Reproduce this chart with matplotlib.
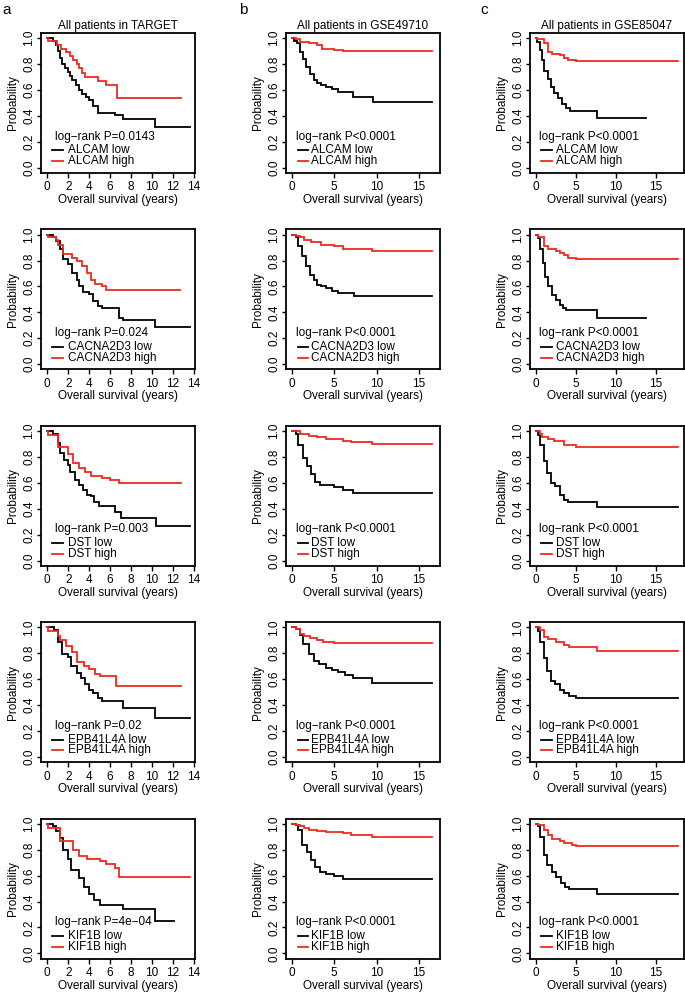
import matplotlib
matplotlib.use("Agg")
import matplotlib.pyplot as plt

plt.rcParams['font.family'] = ['Liberation Sans', 'DejaVu Sans']

# ---------------- data (time in years, survival probability) ----------------
COHORTS = ["TARGET", "GSE49710", "GSE85047"]
GENES = ["ALCAM", "CACNA2D3", "DST", "EPB41L4A", "KIF1B"]
PVALUES_TARGET = ["P=0.0143", "P=0.024", "P=0.003", "P=0.02", "P=4e\u221204"]
PVALUE_GEO = "P<0.0001"
PANEL_LETTERS = ["a", "b", "c"]
XTICKS_TARGET = [0, 2, 4, 6, 8, 10, 12, 14]
XTICKS_GEO = [0, 5, 10, 15]
YTICKS = [0.0, 0.2, 0.4, 0.6, 0.8, 1.0]

# --- TARGET ---
TARGET_ALCAM_LOW_T = [0, 0.5, 0.8, 1.0, 1.2, 1.4, 1.7, 2.0, 2.2, 2.4, 2.7, 3.0, 3.3, 3.7, 4.0, 4.4, 4.8, 6.5, 7.2, 10.3, 13.6]
TARGET_ALCAM_LOW_S = [1.0, 0.98, 0.95, 0.90, 0.85, 0.80, 0.77, 0.74, 0.71, 0.68, 0.64, 0.60, 0.57, 0.55, 0.52, 0.48, 0.42, 0.405, 0.38, 0.315, 0.315]
TARGET_ALCAM_HIGH_T = [0, 0.05, 0.9, 1.3, 1.8, 2.2, 2.5, 2.8, 3.0, 3.3, 3.6, 4.8, 5.6, 6.7, 12.8]
TARGET_ALCAM_HIGH_S = [1.0, 0.975, 0.95, 0.92, 0.89, 0.86, 0.83, 0.80, 0.77, 0.73, 0.70, 0.67, 0.64, 0.54, 0.54]

TARGET_CACNA2D3_LOW_T = [0, 0.5, 0.8, 1.2, 1.5, 2.0, 2.4, 2.8, 3.0, 3.4, 4.0, 4.4, 4.8, 5.2, 6.8, 7.2, 10.3, 13.6]
TARGET_CACNA2D3_LOW_S = [1.0, 0.98, 0.95, 0.89, 0.81, 0.77, 0.70, 0.65, 0.60, 0.56, 0.54, 0.49, 0.45, 0.435, 0.36, 0.34, 0.29, 0.29]
TARGET_CACNA2D3_HIGH_T = [0, 0.05, 0.8, 1.0, 1.5, 2.4, 2.8, 3.3, 3.8, 4.2, 4.6, 5.2, 5.6, 12.7]
TARGET_CACNA2D3_HIGH_S = [1.0, 0.98, 0.96, 0.92, 0.85, 0.82, 0.80, 0.76, 0.70, 0.65, 0.62, 0.60, 0.575, 0.575]

TARGET_DST_LOW_T = [0, 0.5, 1.0, 1.2, 1.6, 2.0, 2.2, 2.6, 3.0, 3.4, 3.8, 4.2, 4.5, 4.9, 6.5, 7.0, 10.4, 13.6]
TARGET_DST_LOW_S = [1.0, 0.98, 0.91, 0.83, 0.78, 0.74, 0.68, 0.625, 0.585, 0.545, 0.51, 0.495, 0.455, 0.42, 0.375, 0.33, 0.265, 0.265]
TARGET_DST_HIGH_T = [0, 0.05, 1.0, 2.0, 2.5, 3.0, 3.6, 4.2, 5.2, 6.0, 6.8, 12.8]
TARGET_DST_HIGH_S = [1.0, 0.97, 0.88, 0.82, 0.755, 0.715, 0.68, 0.65, 0.64, 0.625, 0.60, 0.60]

TARGET_EPB41L4A_LOW_T = [0, 0.6, 1.0, 1.4, 2.0, 2.3, 2.8, 3.2, 3.6, 4.0, 4.4, 4.8, 5.2, 6.5, 7.2, 10.3, 13.6]
TARGET_EPB41L4A_LOW_S = [1.0, 0.98, 0.89, 0.795, 0.77, 0.70, 0.65, 0.61, 0.56, 0.52, 0.495, 0.455, 0.435, 0.43, 0.38, 0.30, 0.30]
TARGET_EPB41L4A_HIGH_T = [0, 0.05, 1.0, 1.2, 1.8, 2.4, 2.8, 3.5, 4.0, 4.6, 5.0, 6.6, 12.8]
TARGET_EPB41L4A_HIGH_S = [1.0, 0.97, 0.93, 0.90, 0.86, 0.81, 0.73, 0.705, 0.68, 0.64, 0.625, 0.55, 0.55]

TARGET_KIF1B_LOW_T = [0, 0.5, 0.8, 1.2, 1.5, 2.0, 2.3, 3.0, 3.5, 4.0, 4.5, 5.0, 7.2, 10.3, 12.1]
TARGET_KIF1B_LOW_S = [1.0, 0.98, 0.947, 0.89, 0.80, 0.73, 0.645, 0.58, 0.51, 0.46, 0.41, 0.37, 0.345, 0.25, 0.25]
TARGET_KIF1B_HIGH_T = [0, 0.05, 1.2, 2.5, 3.0, 3.8, 5.0, 5.6, 6.5, 6.8, 13.6]
TARGET_KIF1B_HIGH_S = [1.0, 0.97, 0.87, 0.80, 0.75, 0.725, 0.71, 0.69, 0.66, 0.587, 0.587]

# --- GSE49710 ---
G497_ALCAM_LOW_T = [0, 0.3, 0.7, 1.0, 1.3, 1.7, 2.2, 2.6, 3.0, 3.5, 4.0, 4.8, 5.5, 7.2, 9.6, 16.5]
G497_ALCAM_LOW_S = [1.0, 0.98, 0.96, 0.89, 0.84, 0.775, 0.72, 0.68, 0.655, 0.64, 0.62, 0.605, 0.585, 0.55, 0.51, 0.51]
G497_ALCAM_HIGH_T = [0, 0.5, 1.0, 2.0, 3.0, 3.6, 5.0, 6.0, 16.5]
G497_ALCAM_HIGH_S = [1.0, 0.99, 0.97, 0.96, 0.945, 0.92, 0.91, 0.90, 0.90]

G497_CACNA2D3_LOW_T = [0, 0.5, 0.8, 1.2, 1.7, 2.2, 2.6, 3.0, 3.5, 4.0, 4.8, 5.5, 7.3, 16.5]
G497_CACNA2D3_LOW_S = [1.0, 0.98, 0.91, 0.835, 0.755, 0.69, 0.65, 0.61, 0.60, 0.585, 0.565, 0.55, 0.53, 0.53]
G497_CACNA2D3_HIGH_T = [0, 0.5, 1.0, 1.5, 2.3, 3.5, 5.0, 6.0, 9.5, 16.5]
G497_CACNA2D3_HIGH_S = [1.0, 0.99, 0.98, 0.96, 0.945, 0.92, 0.91, 0.89, 0.875, 0.875]

G497_DST_LOW_T = [0, 0.5, 0.8, 1.3, 1.8, 2.3, 2.8, 3.3, 4.0, 5.0, 6.0, 7.2, 16.5]
G497_DST_LOW_S = [1.0, 0.98, 0.89, 0.795, 0.73, 0.665, 0.61, 0.585, 0.58, 0.565, 0.545, 0.52, 0.52]
G497_DST_HIGH_T = [0, 1.0, 2.0, 3.0, 4.0, 6.0, 7.0, 9.5, 16.5]
G497_DST_HIGH_S = [1.0, 0.98, 0.965, 0.95, 0.935, 0.925, 0.915, 0.90, 0.90]

G497_EPB41L4A_LOW_T = [0, 0.5, 1.0, 1.4, 2.0, 2.6, 3.2, 4.0, 4.8, 5.5, 6.3, 7.2, 9.5, 16.5]
G497_EPB41L4A_LOW_S = [1.0, 0.99, 0.94, 0.875, 0.795, 0.74, 0.715, 0.69, 0.675, 0.655, 0.635, 0.61, 0.57, 0.57]
G497_EPB41L4A_HIGH_T = [0, 0.5, 1.0, 1.5, 2.2, 3.0, 3.7, 5.0, 16.5]
G497_EPB41L4A_HIGH_S = [1.0, 0.99, 0.95, 0.935, 0.92, 0.90, 0.885, 0.88, 0.88]

G497_KIF1B_LOW_T = [0, 0.5, 0.8, 1.2, 1.8, 2.3, 2.8, 3.3, 4.0, 5.0, 6.0, 16.5]
G497_KIF1B_LOW_S = [1.0, 0.99, 0.95, 0.84, 0.78, 0.72, 0.67, 0.63, 0.61, 0.60, 0.575, 0.575]
G497_KIF1B_HIGH_T = [0, 0.5, 1.0, 1.5, 2.0, 3.0, 4.0, 6.0, 7.0, 9.5, 16.5]
G497_KIF1B_HIGH_S = [1.0, 0.99, 0.98, 0.97, 0.955, 0.945, 0.94, 0.93, 0.91, 0.895, 0.895]

# --- GSE85047 ---
G850_ALCAM_LOW_T = [0, 0.2, 0.5, 0.8, 1.1, 1.5, 1.9, 2.3, 2.8, 3.3, 3.8, 4.3, 7.7, 13.8]
G850_ALCAM_LOW_S = [1.0, 0.97, 0.905, 0.83, 0.75, 0.685, 0.62, 0.58, 0.54, 0.49, 0.46, 0.44, 0.385, 0.385]
G850_ALCAM_HIGH_T = [0, 0.2, 1.0, 1.5, 2.0, 3.0, 3.5, 4.0, 5.0, 17.8]
G850_ALCAM_HIGH_S = [1.0, 0.99, 0.96, 0.895, 0.88, 0.87, 0.845, 0.835, 0.825, 0.825]

G850_CACNA2D3_LOW_T = [0, 0.3, 0.6, 0.9, 1.2, 1.6, 2.0, 2.5, 3.0, 3.4, 3.8, 7.7, 13.8]
G850_CACNA2D3_LOW_S = [1.0, 0.97, 0.89, 0.78, 0.675, 0.60, 0.535, 0.495, 0.455, 0.43, 0.415, 0.36, 0.36]
G850_CACNA2D3_HIGH_T = [0, 0.3, 1.0, 1.6, 2.5, 3.0, 3.5, 4.0, 5.0, 17.8]
G850_CACNA2D3_HIGH_S = [1.0, 0.98, 0.91, 0.89, 0.875, 0.86, 0.84, 0.82, 0.81, 0.81]

G850_DST_LOW_T = [0, 0.3, 0.6, 1.0, 1.4, 1.9, 2.4, 3.0, 3.5, 4.0, 7.7, 17.8]
G850_DST_LOW_S = [1.0, 0.97, 0.89, 0.77, 0.675, 0.60, 0.575, 0.51, 0.47, 0.45, 0.41, 0.41]
G850_DST_HIGH_T = [0, 0.5, 0.8, 1.5, 2.3, 3.5, 5.0, 17.8]
G850_DST_HIGH_S = [1.0, 0.98, 0.95, 0.935, 0.92, 0.895, 0.88, 0.88]

G850_EPB41L4A_LOW_T = [0, 0.3, 0.6, 1.0, 1.4, 1.9, 2.4, 3.0, 3.5, 4.2, 5.0, 17.8]
G850_EPB41L4A_LOW_S = [1.0, 0.97, 0.89, 0.76, 0.66, 0.59, 0.565, 0.52, 0.495, 0.47, 0.455, 0.455]
G850_EPB41L4A_HIGH_T = [0, 0.5, 1.0, 1.6, 2.5, 3.5, 4.2, 7.7, 17.8]
G850_EPB41L4A_HIGH_S = [1.0, 0.98, 0.925, 0.91, 0.89, 0.865, 0.845, 0.82, 0.82]

G850_KIF1B_LOW_T = [0, 0.3, 0.6, 1.0, 1.4, 2.0, 2.6, 3.2, 3.7, 4.2, 7.7, 17.8]
G850_KIF1B_LOW_S = [1.0, 0.98, 0.895, 0.76, 0.68, 0.625, 0.59, 0.545, 0.51, 0.495, 0.46, 0.46]
G850_KIF1B_HIGH_T = [0, 0.3, 1.0, 1.5, 2.0, 3.0, 3.6, 4.5, 5.0, 17.8]
G850_KIF1B_HIGH_S = [1.0, 0.99, 0.95, 0.91, 0.885, 0.87, 0.855, 0.84, 0.83, 0.83]

CURVES = {
    "TARGET": [
        (TARGET_ALCAM_LOW_T, TARGET_ALCAM_LOW_S, TARGET_ALCAM_HIGH_T, TARGET_ALCAM_HIGH_S),
        (TARGET_CACNA2D3_LOW_T, TARGET_CACNA2D3_LOW_S, TARGET_CACNA2D3_HIGH_T, TARGET_CACNA2D3_HIGH_S),
        (TARGET_DST_LOW_T, TARGET_DST_LOW_S, TARGET_DST_HIGH_T, TARGET_DST_HIGH_S),
        (TARGET_EPB41L4A_LOW_T, TARGET_EPB41L4A_LOW_S, TARGET_EPB41L4A_HIGH_T, TARGET_EPB41L4A_HIGH_S),
        (TARGET_KIF1B_LOW_T, TARGET_KIF1B_LOW_S, TARGET_KIF1B_HIGH_T, TARGET_KIF1B_HIGH_S),
    ],
    "GSE49710": [
        (G497_ALCAM_LOW_T, G497_ALCAM_LOW_S, G497_ALCAM_HIGH_T, G497_ALCAM_HIGH_S),
        (G497_CACNA2D3_LOW_T, G497_CACNA2D3_LOW_S, G497_CACNA2D3_HIGH_T, G497_CACNA2D3_HIGH_S),
        (G497_DST_LOW_T, G497_DST_LOW_S, G497_DST_HIGH_T, G497_DST_HIGH_S),
        (G497_EPB41L4A_LOW_T, G497_EPB41L4A_LOW_S, G497_EPB41L4A_HIGH_T, G497_EPB41L4A_HIGH_S),
        (G497_KIF1B_LOW_T, G497_KIF1B_LOW_S, G497_KIF1B_HIGH_T, G497_KIF1B_HIGH_S),
    ],
    "GSE85047": [
        (G850_ALCAM_LOW_T, G850_ALCAM_LOW_S, G850_ALCAM_HIGH_T, G850_ALCAM_HIGH_S),
        (G850_CACNA2D3_LOW_T, G850_CACNA2D3_LOW_S, G850_CACNA2D3_HIGH_T, G850_CACNA2D3_HIGH_S),
        (G850_DST_LOW_T, G850_DST_LOW_S, G850_DST_HIGH_T, G850_DST_HIGH_S),
        (G850_EPB41L4A_LOW_T, G850_EPB41L4A_LOW_S, G850_EPB41L4A_HIGH_T, G850_EPB41L4A_HIGH_S),
        (G850_KIF1B_LOW_T, G850_KIF1B_LOW_S, G850_KIF1B_HIGH_T, G850_KIF1B_HIGH_S),
    ],
}

# ---------------- layout ----------------
W, H = 685, 993
fig = plt.figure(figsize=(W / 100, H / 100), dpi=100)

col_left = [41, 286, 530]
box_w = 154
box_h = 140
row_top = [33 + i * 196.4 for i in range(5)]
xlims = [(-0.6, 14.1), (-0.65, 17.45), (-0.7, 18.5)]
letter_x = [2, 239, 480]
# legend placement (axes fraction): text start for log-rank, line start, line end, label start
leg_pos = [(0.09, 0.07, 0.145, 0.175), (0.065, 0.08, 0.145, 0.165), (0.058, 0.07, 0.14, 0.168)]

RED = "#EE2A1F"
FS = 8.5

for c, cohort in enumerate(COHORTS):
    for r, gene in enumerate(GENES):
        left = col_left[c] / W
        bottom = 1 - (row_top[r] + box_h) / H
        ax = fig.add_axes([left, bottom, box_w / W, box_h / H])
        lt, ls, ht, hs = CURVES[cohort][r]
        ax.step(lt, ls, where="post", color="black", lw=1.3, solid_joinstyle="miter")
        ax.step(ht, hs, where="post", color=RED, lw=1.3, solid_joinstyle="miter")
        ax.set_xlim(*xlims[c])
        ax.set_ylim(-0.04, 1.04)
        ax.set_xticks(XTICKS_TARGET if c == 0 else XTICKS_GEO)
        ax.set_yticks(YTICKS)
        ax.set_yticklabels([f"{v:.1f}" for v in YTICKS], rotation=90, va="center")
        ax.tick_params(axis="x", direction="out", length=3.5, width=1.0, labelsize=FS, pad=2.5)
        ax.tick_params(axis="y", direction="out", length=3.0, width=1.0, labelsize=FS, pad=1.0)
        for sp in ax.spines.values():
            sp.set_linewidth(1.3)
        ax.set_ylabel("Probability", fontsize=FS, labelpad=3)
        ax.set_xlabel("Overall survival (years)", fontsize=FS, labelpad=0.5)
        if r == 0:
            ax.set_title(f"All patients in {cohort}", fontsize=FS, pad=3)
        p = PVALUES_TARGET[r] if c == 0 else PVALUE_GEO
        tx, l0, l1, lx = leg_pos[c]
        ax.text(tx, 0.26, f"log\u2212rank {p}", transform=ax.transAxes,
                fontsize=FS, va="center", ha="left")
        for yy, col, lab in [(0.162, "black", f"{gene} low"), (0.085, RED, f"{gene} high")]:
            ax.plot([l0, l1], [yy, yy], transform=ax.transAxes, color=col, lw=1.3)
            ax.text(lx, yy, lab, transform=ax.transAxes, fontsize=FS, va="center", ha="left")

for c in range(3):
    fig.text(letter_x[c] / W, 1 - 10 / H, PANEL_LETTERS[c], fontsize=11, va="center", ha="left")

fig.savefig("out.png", dpi=100)
